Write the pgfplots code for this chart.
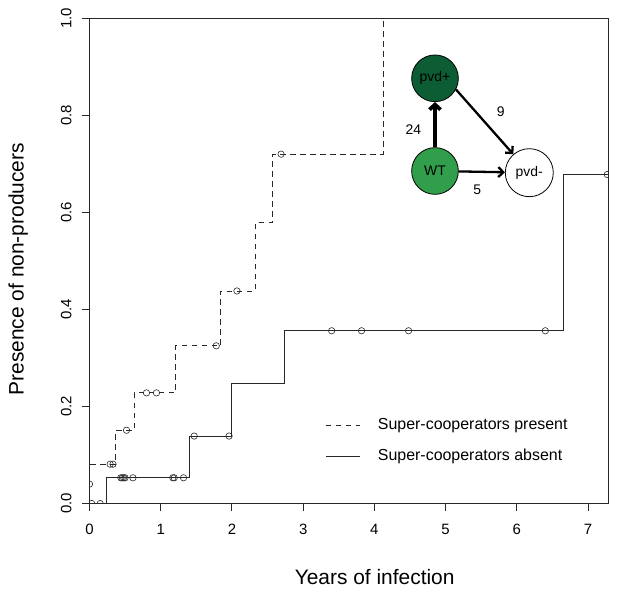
\documentclass[border=0pt]{standalone}
\usepackage{fontspec}
\setmainfont{Liberation Sans}
\usepackage{pgfplots}
\pgfplotsset{compat=1.18}
\usetikzlibrary{arrows.meta}
\definecolor{darkgr}{RGB}{12,92,52}
\definecolor{midgr}{RGB}{48,158,74}
\definecolor{lc}{RGB}{40,40,40}
\begin{document}
\begin{tikzpicture}
\begin{axis}[
  scale only axis, width=518.5bp, height=485.2bp,
  xmin=0, xmax=7.28, ymin=0, ymax=1,
  axis line style={lc, line width=0.9bp},
  xtick={0,1,2,3,4,5,6,7}, ytick={0,0.2,0.4,0.6,0.8,1},
  tick align=outside, xtick pos=bottom, ytick pos=left,
  major tick length=7bp,
  tick style={lc, line width=0.9bp},
  /pgf/number format/assume math mode=true,
  ticklabel style={font=\fontsize{15}{18}\selectfont},
  yticklabel style={rotate=90, anchor=south, /pgf/number format/.cd, fixed, fixed zerofill, precision=1},
  yticklabel shift=7.5bp,
  xticklabel shift=10bp,
  xlabel={Years of infection}, ylabel={Presence of non-producers},
  label style={font=\fontsize{21}{25}\selectfont},
  xlabel style={at={(axis description cs:0.55,-0.1515)}, anchor=center},
  ylabel style={at={(axis description cs:-0.1375,0.483)}, anchor=center},
  clip marker paths=true,
  legend style={at={(axis description cs:0.454,0.178)}, anchor=north west, draw=none, fill=none,
    font=\fontsize{16}{19}\selectfont, row sep=15bp, inner sep=0pt,
    nodes={inner sep=0pt, text height=12bp, text depth=4bp}},
  legend image code/.code={\draw[#1] (0bp,0bp) -- (34bp,0bp); \path (52bp,0bp);},
  legend cell align=left,
]
% Super-cooperators present (dashed step curve)
\addplot[forget plot, const plot, lc, line width=0.85bp, dash pattern=on 5.5bp off 4.5bp]
  coordinates {(0,0) (0,0.081) (0.37,0.151) (0.63,0.228) (1.21,0.325) (1.84,0.438) (2.33,0.579) (2.57,0.720) (4.12,1.0)};
% Super-cooperators absent (solid step curve)
\addplot[forget plot, const plot, lc, line width=0.85bp]
  coordinates {(0,0) (0.24,0.053) (1.40,0.139) (1.99,0.248) (2.73,0.356) (6.65,0.678) (7.28,0.678)};
% censor marks, present
\addplot[forget plot, only marks, mark=o, mark size=3.2bp, lc, line width=0.6bp]
  coordinates {(0,0.04) (0.29,0.081) (0.33,0.081) (0.52,0.151) (0.80,0.228) (0.94,0.228) (1.78,0.325) (2.07,0.438) (2.69,0.720)};
% censor marks, absent
\addplot[forget plot, only marks, mark=o, mark size=3.2bp, lc, line width=0.6bp]
  coordinates {(0.03,0) (0.15,0) (0.44,0.053) (0.46,0.053) (0.48,0.053) (0.50,0.053) (0.61,0.053) (1.17,0.053) (1.19,0.053) (1.32,0.053) (1.47,0.139) (1.96,0.139) (3.40,0.356) (3.82,0.356) (4.48,0.356) (6.40,0.356) (7.27,0.678)};
\addlegendimage{lc, line width=0.85bp, dash pattern=on 5.5bp off 4.5bp}
\addlegendentry{Super-cooperators present}
\addlegendimage{lc, line width=0.85bp}
\addlegendentry{Super-cooperators absent}
% network inset
\node[circle, draw=black, fill=darkgr, minimum size=46.7bp, inner sep=0pt, line width=0.8bp, font=\fontsize{14}{16}\selectfont] (pp) at (axis cs:4.851,0.8763) {pvd+};
\node[circle, draw=black, fill=midgr, minimum size=46.7bp, inner sep=0pt, line width=0.8bp, font=\fontsize{14}{16}\selectfont] (wt) at (axis cs:4.851,0.6853) {WT};
\node[circle, draw=black, fill=white, minimum size=48bp, inner sep=0pt, line width=0.8bp, font=\fontsize{14}{16}\selectfont] (pm) at (axis cs:6.175,0.6818) {pvd-};
\draw[line width=3.8bp, -{Straight Barb[length=5bp,width=11bp]}] (wt) -- (pp);
\draw[line width=2.3bp, -{Straight Barb[length=5bp,width=10bp]}] (pp.-28) -- (pm.131);
\draw[line width=2.3bp, -{Straight Barb[length=5bp,width=10bp]}] (wt) -- (pm);
\node[font=\fontsize{14}{16}\selectfont] at (axis cs:4.546,0.7698) {24};
\node[font=\fontsize{14}{16}\selectfont] at (axis cs:5.774,0.8075) {9};
\node[font=\fontsize{14}{16}\selectfont] at (axis cs:5.445,0.6476) {5};
\end{axis}
\pgfresetboundingbox
\path (-89.5bp,-89.5bp) rectangle (527.5bp,503.5bp);
\end{tikzpicture}
\end{document}
